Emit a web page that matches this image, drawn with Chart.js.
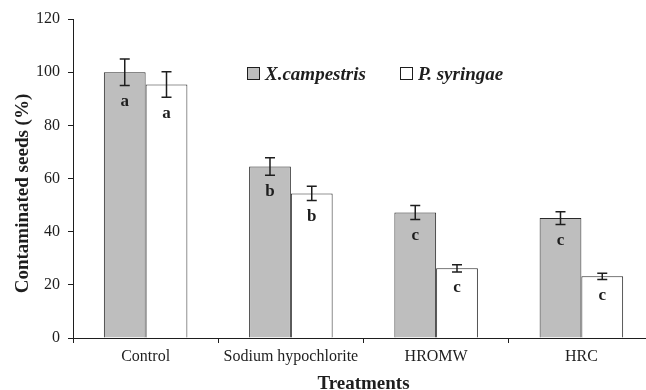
<!DOCTYPE html>
<html>
<head>
<meta charset="utf-8">
<script src="https://cdn.jsdelivr.net/npm/chart.js@4/dist/chart.umd.min.js"></script>
<style>
  html, body { margin: 0; padding: 0; background: #fff; overflow: hidden; }
  canvas { display: block; }
</style>
</head>
<body>
<canvas id="chart" width="660" height="390"></canvas>
<script>
// Data
const categories = ["Control", "Sodium hypochlorite", "HROMW", "HRC"];
const xcValues = [100, 64.5, 47.2, 45.1];   // X.campestris
const xcErrors = [5, 3.3, 2.6, 2.4];
const xcLetters = ["a", "b", "c", "c"];
const psValues = [95.4, 54.4, 26.2, 23.2];  // P. syringae
const psErrors = [4.8, 2.7, 1.4, 1.2];
const psLetters = ["a", "b", "c", "c"];
const yMin = 0, yMax = 120, yStep = 20;

const serif = "'Liberation Serif', 'Times New Roman', serif";
const ink = "#1e1e1e";

const errors = [xcErrors, psErrors];
const letters = [xcLetters, psLetters];

// error bars, significance letters, legend and y title
const extras = {
    id: "extras",
    afterDatasetsDraw(chart) {
        const ctx = chart.ctx;
        const y = chart.scales.y;
        ctx.save();
        chart.data.datasets.forEach((ds, di) => {
            const meta = chart.getDatasetMeta(di);
            meta.data.forEach((bar, i) => {
                const v = ds.data[i], e = errors[di][i];
                const top = y.getPixelForValue(v + e);
                const bot = y.getPixelForValue(v - e);
                ctx.strokeStyle = ink;
                ctx.lineWidth = 1.5;
                ctx.beginPath();
                ctx.moveTo(bar.x, top); ctx.lineTo(bar.x, bot);
                ctx.moveTo(bar.x - 5, top); ctx.lineTo(bar.x + 5, top);
                ctx.moveTo(bar.x - 5, bot); ctx.lineTo(bar.x + 5, bot);
                ctx.stroke();

                ctx.fillStyle = ink;
                ctx.font = "bold 17px " + serif;
                ctx.textAlign = "center";
                ctx.textBaseline = "middle";
                ctx.fillText(letters[di][i], bar.x, bot + 16);
            });
        });
        ctx.restore();
    },
    afterDraw(chart) {
        const ctx = chart.ctx;
        const area = chart.chartArea;
        ctx.save();
        // legend
        const lx = [area.left + 174, area.left + 327];
        chart.data.datasets.forEach((ds, di) => {
            const x = lx[di], cy = area.top + 55;
            ctx.fillStyle = ds.backgroundColor;
            ctx.strokeStyle = ink;
            ctx.lineWidth = 1;
            ctx.fillRect(x + 0.5, cy - 6.5, 12, 12);
            ctx.strokeRect(x + 0.5, cy - 6.5, 12, 12);
            ctx.fillStyle = ink;
            ctx.font = "italic bold 19px " + serif;
            ctx.textAlign = "left";
            ctx.textBaseline = "middle";
            ctx.fillText(ds.label, x + 18, cy + 1);
        });
        // y axis title
        ctx.translate(23, (area.top + area.bottom) / 2 + 15);
        ctx.rotate(-Math.PI / 2);
        ctx.font = "bold 19px " + serif;
        ctx.textAlign = "center";
        ctx.textBaseline = "middle";
        ctx.fillStyle = ink;
        ctx.fillText("Contaminated seeds (%)", 0, 0);
        ctx.restore();
    }
};

new Chart(document.getElementById("chart"), {
    type: "bar",
    data: {
        labels: categories,
        datasets: [
            {
                label: "X.campestris",
                data: xcValues,
                backgroundColor: "#bebebe",
                borderColor: "#2a2a2a",
                borderWidth: 1,
                categoryPercentage: 0.575,
                barPercentage: 1.0,
            },
            {
                label: "P. syringae",
                data: psValues,
                backgroundColor: "#ffffff",
                borderColor: "#2a2a2a",
                borderWidth: 1,
                categoryPercentage: 0.575,
                barPercentage: 1.0,
            },
        ],
    },
    options: {
        responsive: false,
        animation: false,
        devicePixelRatio: 1,
        layout: { padding: { top: 19, right: 6, left: 0, bottom: 0 } },
        plugins: {
            legend: { display: false },
            tooltip: { enabled: false },
        },
        scales: {
            x: {
                grid: { offset: true, drawOnChartArea: false, drawTicks: true, tickLength: 5, color: ink },
                border: { display: true, color: ink, width: 1 },
                ticks: { color: ink, font: { family: serif, size: 16 }, padding: 4, maxRotation: 0, autoSkip: false },
                title: {
                    display: true,
                    text: "Treatments",
                    color: ink,
                    font: { family: serif, size: 19, weight: "bold", lineHeight: 1 },
                    padding: { top: 0, bottom: -4 },
                },
                afterFit(scale) { scale.height = 52; },
            },
            y: {
                min: yMin,
                max: yMax,
                grid: { drawOnChartArea: false, drawTicks: true, tickLength: 5, color: ink },
                border: { display: true, color: ink, width: 1 },
                ticks: { stepSize: yStep, color: ink, font: { family: serif, size: 16 }, padding: 8 },
                afterFit(scale) { scale.width = 73; },
            },
        },
    },
    plugins: [extras],
});
</script>
</body>
</html>
